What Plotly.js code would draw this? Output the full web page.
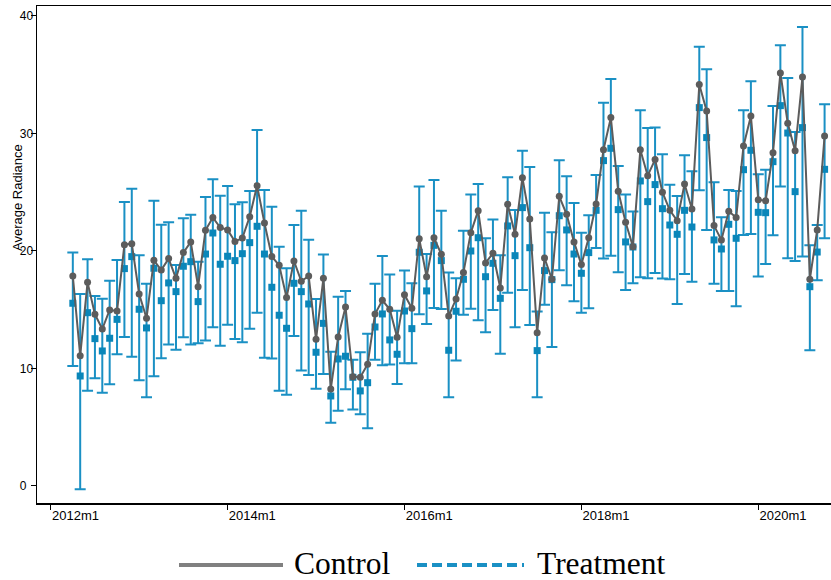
<!DOCTYPE html>
<html>
<head>
<meta charset="utf-8">
<script src="https://cdn.plot.ly/plotly-3.0.1.min.js"></script>
<style>html,body{margin:0;padding:0;background:#fff;}#chart{width:831px;height:580px;}</style>
</head>
<body>
<div id="chart"></div>
<script>
// Months are counted from 2012m1 (= 0); series start at 2012m4
const firstMonth = 3;
const tickMonths = [0, 24, 48, 72, 96];
const tickLabels = ['2012m1', '2014m1', '2016m1', '2018m1', '2020m1'];
const yTickVals = [0, 10, 20, 30, 40];
const yTickLabels = ['0\u2007', '10', '20', '30', '40'];

const control = [17.87,11.09,17.33,14.61,13.36,14.98,14.89,20.54,20.62,16.34,14.27,19.2,18.38,19.35,17.67,19.86,20.77,16.96,21.76,22.84,22.0,21.79,20.8,21.1,22.92,25.56,22.38,19.52,18.78,16.03,19.15,17.42,17.87,12.48,17.67,8.26,12.68,15.23,9.3,9.25,10.36,14.64,15.8,15.04,12.65,16.28,15.12,21.05,17.81,21.13,19.72,14.47,15.91,18.16,21.56,23.43,18.98,19.8,16.85,23.97,21.42,26.24,22.72,13.05,19.4,17.59,24.65,23.12,20.77,18.84,21.13,24.0,28.62,31.35,25.08,22.44,20.37,28.62,26.41,27.78,25.0,23.46,22.58,25.7,23.57,34.16,31.91,22.16,20.94,23.38,22.84,28.94,31.49,24.37,24.28,28.37,35.15,30.87,28.54,34.81,17.59,21.79,29.79];
const treatment = [15.55,9.36,14.75,12.54,11.49,12.57,14.18,18.5,19.52,15.04,13.45,18.53,15.77,17.28,16.54,18.7,19.09,15.69,19.74,21.53,18.87,19.55,19.18,19.77,20.71,22.1,19.74,16.91,14.53,13.42,17.25,16.54,15.49,11.38,13.84,7.66,10.81,11.04,9.25,8.09,8.79,13.53,14.64,12.43,11.21,14.89,13.39,19.89,16.6,20.48,19.18,11.55,14.87,17.59,20.0,21.13,17.81,18.95,15.97,22.13,19.6,23.69,20.28,11.52,18.33,17.56,23.0,21.79,19.74,18.1,19.86,23.46,27.69,28.74,23.52,20.77,20.34,25.96,24.2,25.65,23.6,22.21,21.42,23.46,22.04,32.2,29.65,20.94,20.17,22.27,21.08,26.92,28.57,23.29,23.26,27.6,32.37,30.04,25.05,30.5,16.96,19.91,26.95];
const treatmentHigh = [19.86,16.34,19.29,16.17,15.94,17.47,19.23,24.17,25.3,19.63,17.22,24.28,22.24,22.44,18.81,22.78,23.09,19.09,24.6,26.1,24.71,25.53,23.97,24.14,25.1,30.3,25.19,23.77,20.37,18.53,22.21,23.43,20.96,15.91,19.69,11.43,16.11,16.6,10.75,11.38,12.96,17.22,19.57,17.99,14.92,18.33,17.25,25.48,19.74,26.04,23.43,18.16,17.67,21.73,24.8,25.7,21.08,22.67,19.63,26.27,23.49,28.54,27.15,14.84,23.26,21.59,27.72,26.35,24.09,21.56,23.04,26.47,32.62,34.64,27.23,24.8,23.35,31.97,30.47,30.5,28.23,25.64,24.68,28.14,26.78,37.39,35.46,25.84,22.87,25.19,25.1,31.97,34.44,26.53,26.92,32.34,37.5,34.72,30.13,39.06,20.48,22.21,32.48];
const treatmentLow = [10.21,-0.28,8.11,9.16,7.94,8.65,11.21,12.68,11.0,8.99,7.55,9.33,10.87,12.03,11.6,12.65,12.03,12.14,12.37,13.5,11.94,13.73,12.51,12.23,13.39,14.75,10.92,10.84,8.11,7.77,12.77,9.82,9.45,8.28,9.53,5.39,6.41,8.23,6.5,6.1,4.91,10.75,10.27,10.33,8.68,10.44,10.44,14.61,13.79,15.15,15.06,7.55,10.67,14.58,15.09,14.1,13.08,14.98,11.26,16.45,13.5,16.68,13.7,7.55,15.43,11.83,18.36,17.08,15.72,14.75,15.12,20.26,19.35,19.6,18.18,16.68,17.25,17.76,17.67,18.13,17.65,17.59,15.49,18.04,17.39,25.16,21.79,17.22,16.6,16.6,15.29,21.36,21.45,17.82,18.89,21.33,25.48,19.38,19.15,19.52,11.55,17.5,21.08];

const months = control.map((_, i) => firstMonth + i);
const errPlus = treatment.map((v, i) => treatmentHigh[i] - v);
const errMinus = treatment.map((v, i) => v - treatmentLow[i]);

const blue = '#1a90c4';
const grey = '#5c5c5c';

const traces = [
  {
    x: months, y: treatment, type: 'scatter', mode: 'markers', name: 'Treatment',
    marker: {symbol: 'square', size: 7, color: '#0a86b9'},
    error_y: {type: 'data', symmetric: false, array: errPlus, arrayminus: errMinus,
      color: blue, thickness: 2, width: 5.5},
    showlegend: false, hoverinfo: 'x+y'
  },
  {
    x: months, y: control, type: 'scatter', mode: 'lines+markers', name: 'Control',
    line: {color: grey, width: 2},
    marker: {symbol: 'circle', size: 7, color: grey},
    showlegend: false
  }
];

const L = 37, R = 0, T = 6, B = 77;
const W = 831, H = 580;
const pw = W - L - R, ph = H - T - B;
const px2x = p => (p - L) / pw;
const py2y = p => (H - B - p) / ph;

const layout = {
  width: W, height: H,
  margin: {l: L, r: R, t: T, b: B, pad: 0},
  paper_bgcolor: '#fff', plot_bgcolor: '#fff',
  font: {family: '"Liberation Sans", Arial, sans-serif', color: '#000'},
  showlegend: false,
  xaxis: {
    range: [-1.86, 105.87], showgrid: false, zeroline: false,
    showline: true, linecolor: '#000', linewidth: 1.5, mirror: true,
    ticks: 'outside', ticklen: 5, tickwidth: 1, tickcolor: '#000',
    tickvals: tickMonths, ticktext: tickLabels,
    ticklabelposition: 'outside right',
    tickfont: {size: 13, family: '"Liberation Sans", Arial, sans-serif'}
  },
  yaxis: {
    range: [-1.45, 40.85], showgrid: false, zeroline: false,
    showline: true, linecolor: '#000', linewidth: 1.5,
    ticks: 'outside', ticklen: 5, tickwidth: 1, tickcolor: '#000',
    tickvals: yTickVals, ticktext: yTickLabels,
    ticklabelstandoff: -5,
    tickfont: {size: 12, family: '"Liberation Sans", Arial, sans-serif'}
  },
  shapes: [
    {type: 'line', xref: 'paper', yref: 'paper', x0: px2x(179), x1: px2x(283), y0: py2y(565), y1: py2y(565),
      line: {color: '#808080', width: 4}},
    {type: 'line', xref: 'paper', yref: 'paper', x0: px2x(417), x1: px2x(524), y0: py2y(565), y1: py2y(565),
      line: {color: blue, width: 4, dash: '10px,5px'}}
  ],
  annotations: [
    {text: 'Average Radiance', xref: 'paper', yref: 'paper', x: px2x(17), y: py2y(198),
      textangle: -90, showarrow: false, xanchor: 'center', yanchor: 'middle',
      font: {size: 13, family: '"Liberation Sans", Arial, sans-serif', color: '#000'}},
    {text: 'Control', xref: 'paper', yref: 'paper', x: px2x(292), y: py2y(563),
      showarrow: false, xanchor: 'left', yanchor: 'middle',
      font: {size: 31.5, family: '"Liberation Serif", "DejaVu Serif", serif', color: '#000'}},
    {text: 'Treatment', xref: 'paper', yref: 'paper', x: px2x(535), y: py2y(563),
      showarrow: false, xanchor: 'left', yanchor: 'middle',
      font: {size: 31.5, family: '"Liberation Serif", "DejaVu Serif", serif', color: '#000'}}
  ]
};

Plotly.newPlot('chart', traces, layout, {displayModeBar: false, staticPlot: true});
</script>
</body>
</html>
